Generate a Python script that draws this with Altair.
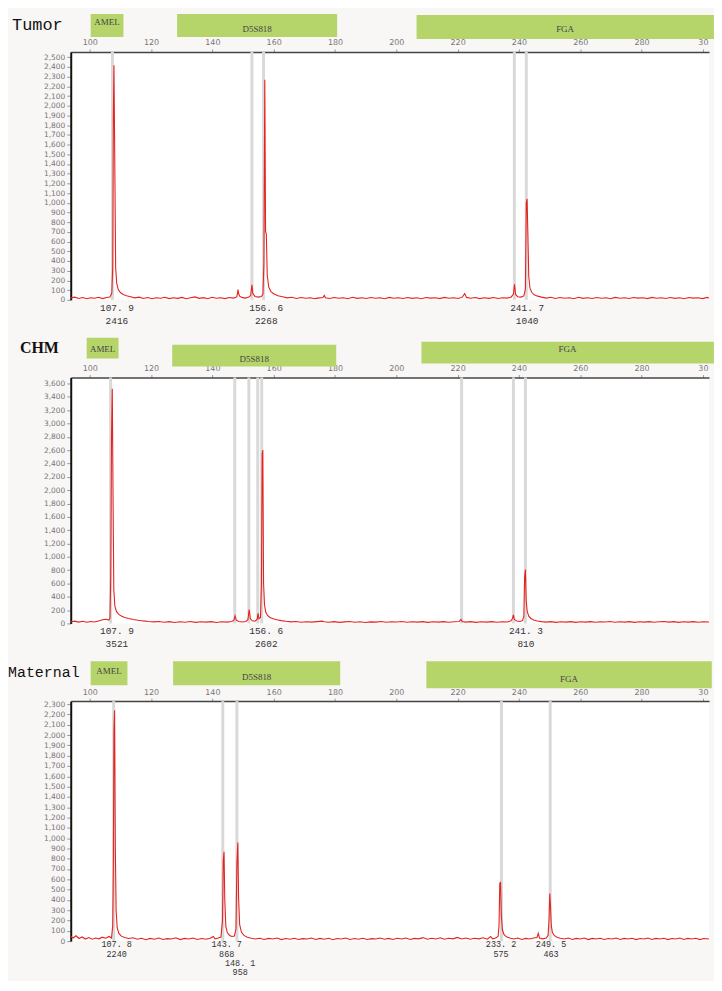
import altair as alt
import pandas as pd

# ---------------- data ----------------
X_DOMAIN = [93.8, 302.0]
x_tick_values = [100, 120, 140, 160, 180, 200, 220, 240, 260, 280, 300]

panel_names = ["Tumor", "CHM", "Maternal"]
marker_names = ["AMEL", "D5S818", "FGA"]

# marker bins (bp) of the green header boxes
tumor_marker_start = [100.3, 128.5, 206.6]
tumor_marker_end = [111.0, 180.7, 303.6]
chm_marker_start = [99.0, 126.9, 208.2]
chm_marker_end = [109.4, 180.4, 303.6]
maternal_marker_start = [100.3, 127.2, 209.8]
maternal_marker_end = [112.3, 181.7, 302.9]

# grey allele bins (bp)
tumor_bins = [107.4, 152.9, 156.7, 238.5, 242.4]
chm_bins = [106.8, 147.3, 151.9, 154.8, 156.1, 221.3, 238.2, 242.1]
maternal_bins = [107.8, 143.4, 148.0, 234.3, 250.2]

# called peaks: size label, height label, label row
tumor_label_size = ["107. 9", "156. 6", "241. 7"]
tumor_label_height = ["2416", "2268", "1040"]
tumor_label_row = [0, 0, 0]
chm_label_size = ["107. 9", "156. 6", "241. 3"]
chm_label_height = ["3521", "2602", "810"]
chm_label_row = [0, 0, 0]
maternal_label_size = ["107. 8", "143. 7", "148. 1", "233. 2", "249. 5"]
maternal_label_height = ["2240", "868", "958", "575", "463"]
maternal_label_row = [0, 0, 1, 0, 0]

# electropherogram traces: (size bp, RFU)
tumor_trace = [
    (93.8, 20), (95.1, 28), (96.4, 14), (97.7, 24), (99.0, 12), (100.3, 22), (101.6, 16), (102.9, 26),
    (104.2, 13), (105.5, 24), (106.6, 30), (107.2, 70), (107.5, 340), (107.7, 1900), (107.9, 2416),
    (108.2, 1300), (108.45, 330), (108.8, 170), (109.3, 105), (110.0, 75), (110.9, 55), (112.0, 42),
    (113.3, 32), (114.7, 20), (116.1, 28), (117.5, 14), (118.9, 24), (120.3, 12), (121.7, 22), (123.1, 16),
    (124.5, 27), (125.9, 13), (127.3, 22), (128.7, 15), (130.1, 25), (131.5, 12), (132.9, 21), (134.3, 30),
    (135.7, 15), (137.1, 23), (138.5, 12), (139.9, 26), (141.3, 16), (142.7, 22), (144.1, 13), (145.5, 24),
    (146.9, 18), (148.0, 30), (148.35, 105), (148.6, 60), (148.9, 38), (149.6, 25), (150.7, 18), (151.8, 26),
    (152.5, 45), (152.9, 155), (153.2, 65), (153.9, 35), (155.0, 28), (156.0, 35), (156.5, 60), (156.8, 380),
    (157.1, 2268), (157.35, 700), (157.6, 680), (157.9, 250), (158.4, 130), (159.1, 85), (160.1, 60),
    (161.4, 42), (162.9, 32), (164.4, 20), (165.9, 27), (167.4, 14), (168.9, 24), (170.4, 16), (171.9, 22),
    (173.4, 12), (174.9, 20), (176.1, 24), (176.5, 45), (176.9, 22), (178.2, 14), (179.7, 24), (181.2, 16),
    (182.7, 22), (184.2, 12), (185.7, 26), (187.2, 15), (188.7, 21), (190.2, 13), (191.7, 24), (193.2, 17),
    (194.7, 22), (196.2, 12), (197.7, 25), (199.2, 16), (200.7, 22), (202.2, 14), (203.7, 24), (205.2, 15),
    (206.7, 21), (208.2, 12), (209.7, 24), (211.2, 18), (212.7, 22), (214.2, 13), (215.7, 25), (217.2, 16),
    (218.7, 22), (220.2, 14), (221.6, 30), (222.3, 65), (222.9, 25), (224.2, 16), (225.7, 24), (227.2, 13),
    (228.7, 22), (230.2, 15), (231.7, 24), (233.2, 14), (234.7, 22), (236.2, 18), (237.5, 30), (238.2, 60),
    (238.55, 160), (238.9, 55), (239.6, 32), (240.6, 28), (241.6, 40), (242.1, 110), (242.4, 1000),
    (242.65, 1040), (242.9, 700), (243.2, 240), (243.6, 120), (244.2, 75), (245.0, 52), (246.1, 38),
    (247.4, 28), (248.9, 18), (250.4, 26), (251.9, 14), (253.4, 24), (254.9, 16), (256.4, 22), (257.9, 12),
    (259.4, 26), (260.9, 15), (262.4, 21), (263.9, 13), (265.4, 24), (266.9, 17), (268.4, 22), (269.9, 12),
    (271.4, 25), (272.9, 16), (274.4, 22), (275.9, 14), (277.4, 24), (278.9, 18), (280.4, 22), (281.9, 13),
    (283.4, 25), (284.9, 16), (286.4, 22), (287.9, 14), (289.4, 24), (290.9, 15), (292.4, 21), (293.9, 12),
    (295.4, 24), (296.9, 18), (298.4, 22), (299.9, 13), (301.4, 25), (302.0, 18),
]

chm_trace = [
    (93.8, 25), (95.1, 35), (96.4, 20), (97.7, 32), (99.0, 18), (100.3, 30), (101.6, 22), (102.9, 38),
    (104.2, 55), (105.3, 62), (106.2, 50), (106.6, 80), (106.85, 700), (107.1, 2800), (107.35, 3521),
    (107.6, 1900), (107.85, 500), (108.2, 260), (108.7, 180), (109.4, 140), (110.3, 110), (111.4, 90),
    (112.7, 75), (114.2, 60), (115.8, 48), (117.5, 38), (119.2, 30), (120.9, 24), (122.6, 30), (124.3, 18),
    (126.0, 28), (127.7, 15), (129.4, 26), (131.1, 18), (132.8, 30), (134.5, 16), (136.2, 25), (137.9, 20),
    (139.6, 28), (141.3, 15), (143.0, 26), (144.7, 20), (146.3, 28), (147.0, 45), (147.4, 115), (147.8, 50),
    (148.6, 30), (149.8, 22), (150.9, 30), (151.6, 55), (152.0, 210), (152.4, 70), (153.0, 40), (153.9, 35),
    (154.6, 60), (154.9, 150), (155.2, 70), (155.7, 90), (156.0, 600), (156.25, 2550), (156.45, 2602),
    (156.7, 600), (157.0, 280), (157.4, 170), (158.0, 120), (158.8, 90), (159.8, 70), (161.0, 55),
    (162.4, 42), (164.0, 32), (165.6, 24), (167.3, 30), (169.0, 18), (170.7, 26), (172.4, 20), (174.1, 28),
    (175.8, 35), (176.5, 25), (178.0, 18), (179.7, 28), (181.4, 16), (183.1, 24), (184.8, 30), (186.5, 18),
    (188.2, 26), (189.9, 15), (191.6, 24), (193.3, 20), (195.0, 30), (196.7, 18), (198.4, 26), (200.1, 22),
    (201.8, 30), (203.5, 18), (205.2, 26), (206.9, 20), (208.6, 28), (210.3, 16), (212.0, 25), (213.7, 20),
    (215.4, 28), (217.1, 18), (218.8, 26), (220.5, 30), (221.1, 60), (221.5, 30), (222.6, 20), (224.3, 28),
    (226.0, 16), (227.7, 25), (229.4, 20), (231.1, 28), (232.8, 18), (234.5, 26), (236.2, 22), (237.4, 40),
    (237.9, 75), (238.2, 130), (238.5, 60), (239.3, 38), (240.4, 30), (241.2, 45), (241.6, 110),
    (241.85, 700), (242.1, 810), (242.35, 350), (242.7, 180), (243.2, 110), (243.9, 75), (244.8, 52),
    (246.0, 38), (247.4, 28), (248.9, 20), (250.5, 28), (252.1, 16), (253.7, 26), (255.3, 20), (256.9, 28),
    (258.5, 16), (260.1, 25), (261.7, 20), (263.3, 28), (264.9, 18), (266.5, 26), (268.1, 22), (269.7, 30),
    (271.3, 18), (272.9, 26), (274.5, 20), (276.1, 28), (277.7, 16), (279.3, 25), (280.9, 20), (282.5, 28),
    (284.1, 18), (285.7, 26), (287.3, 30), (288.9, 20), (290.5, 28), (292.1, 16), (293.7, 25), (295.3, 20),
    (296.9, 28), (298.5, 18), (300.1, 26), (302.0, 22),
]

maternal_trace = [
    (93.8, 45), (94.6, 30), (95.5, 52), (96.5, 25), (97.5, 40), (98.6, 20), (99.7, 35), (100.8, 18),
    (101.9, 30), (103.0, 22), (104.1, 38), (105.2, 28), (106.3, 45), (107.1, 30), (107.5, 150), (107.7, 700),
    (107.9, 2050), (108.1, 2240), (108.35, 900), (108.6, 300), (108.95, 130), (109.5, 75), (110.3, 48),
    (111.4, 35), (112.7, 25), (114.1, 32), (115.5, 18), (116.9, 28), (118.3, 14), (119.7, 26), (121.1, 18),
    (122.5, 30), (123.9, 16), (125.3, 24), (126.7, 20), (128.1, 32), (129.5, 15), (130.9, 26), (132.3, 20),
    (133.7, 30), (135.1, 16), (136.5, 25), (137.9, 18), (139.3, 28), (140.3, 45), (140.9, 22), (141.9, 30),
    (142.8, 40), (143.3, 200), (143.55, 780), (143.8, 868), (144.05, 400), (144.4, 140), (144.9, 80),
    (145.6, 55), (146.4, 45), (147.2, 50), (147.7, 120), (148.0, 750), (148.3, 958), (148.55, 420),
    (148.9, 160), (149.5, 85), (150.3, 55), (151.4, 38), (152.7, 28), (154.1, 20), (155.5, 28), (156.9, 16),
    (158.3, 26), (159.7, 20), (161.1, 30), (162.5, 15), (163.9, 25), (165.3, 18), (166.7, 28), (168.1, 15),
    (169.5, 24), (170.9, 20), (172.3, 30), (173.7, 16), (175.1, 26), (176.5, 18), (177.9, 28), (179.3, 14),
    (180.7, 25), (182.1, 20), (183.5, 30), (184.9, 16), (186.3, 25), (187.7, 18), (189.1, 28), (190.5, 15),
    (191.9, 24), (193.3, 20), (194.7, 30), (196.1, 18), (197.5, 26), (198.9, 16), (200.3, 28), (201.7, 20),
    (203.1, 30), (204.5, 16), (205.9, 26), (207.3, 22), (208.7, 34), (210.1, 18), (211.5, 28), (212.9, 20),
    (214.3, 32), (215.7, 18), (217.1, 28), (218.5, 22), (219.9, 36), (221.3, 20), (222.7, 30), (224.1, 18),
    (225.5, 28), (226.9, 22), (228.3, 32), (229.7, 18), (230.8, 45), (231.4, 22), (232.4, 30), (233.2, 45),
    (233.5, 150), (233.75, 560), (234.0, 575), (234.25, 260), (234.6, 110), (235.1, 65), (235.9, 42),
    (237.0, 30), (238.3, 20), (239.6, 30), (240.9, 16), (242.2, 26), (243.5, 20), (244.8, 30), (245.9, 35),
    (246.3, 75), (246.7, 30), (247.8, 22), (248.9, 30), (249.5, 55), (249.8, 200), (250.05, 463),
    (250.3, 330), (250.55, 150), (250.9, 85), (251.5, 55), (252.4, 38), (253.5, 28), (254.8, 20),
    (256.1, 30), (257.4, 16), (258.7, 26), (260.0, 20), (261.3, 30), (262.6, 15), (263.9, 26), (265.2, 20),
    (266.5, 28), (267.8, 16), (269.1, 25), (270.4, 20), (271.7, 30), (273.0, 16), (274.3, 26), (275.6, 20),
    (276.9, 28), (278.2, 15), (279.5, 25), (280.8, 20), (282.1, 30), (283.4, 16), (284.7, 26), (286.0, 20),
    (287.3, 28), (288.6, 15), (289.9, 25), (291.2, 20), (292.5, 30), (293.8, 16), (295.1, 26), (296.4, 20),
    (297.7, 28), (299.0, 15), (300.3, 25), (302.0, 20),
]

# y axis ranges (RFU)
tumor_y_max, tumor_y_step, tumor_y_top = 2555, 100, 2500
chm_y_max, chm_y_step, chm_y_top = 3690, 200, 3600
maternal_y_max, maternal_y_step, maternal_y_top = 2330, 100, 2300

# ---------------- styles ----------------
RED = "#e5231f"
GREEN = "#b5d56b"
BIN_GREY = "#d9d9d9"
LABEL_FONT = "Liberation Mono"

styles = {
    "Tumor": dict(height=249, title_x=-59, title_y=-27, title_font="Liberation Mono", title_size=17,
                  title_weight="normal",
                  boxes=[(-38, -15, -30), (-38, -15, -23), (-37, -13, -23)],
                  rows=[(8, 21)], lab_size=9.5),
    "CHM": dict(height=247, title_x=-51, title_y=-30, title_font="Liberation Serif", title_size=16,
                title_weight="bold",
                boxes=[(-40, -19, -29), (-33, -11, -19), (-36, -14, -29)],
                rows=[(8, 21)], lab_size=9.5),
    "Maternal": dict(height=241, title_x=-63, title_y=-29, title_font="Liberation Mono", title_size=15,
                     title_weight="normal",
                     boxes=[(-40, -16, -30), (-40, -16, -24), (-40, -13, -22)],
                     rows=[(3, 13), (22, 31)], lab_size=8.5),
}

X_AXIS = alt.Axis(orient="top", values=x_tick_values, grid=False, title=None,
                  labelExpr="datum.value == 300 ? '30' : datum.label",
                  labelFont="DejaVu Sans", labelFontSize=8, labelColor="#777777",
                  labelPadding=2, tickSize=3, tickColor="#999999",
                  domainColor="#444444", domainWidth=1.5)


def parse_size(txt):
    return float(txt.replace(" ", ""))


def make_panel(name, trace, bins, m_start, m_end, lab_size, lab_height, lab_row, y_max, y_step, y_top):
    st = styles[name]
    h = st["height"]
    xs = alt.Scale(domain=X_DOMAIN, nice=False, zero=False)
    ys = alt.Scale(domain=[0, y_max], nice=False, zero=True)

    df_trace = pd.DataFrame({
        "i": list(range(len(trace))),
        "bp": [p[0] for p in trace],
        "rfu": [p[1] for p in trace],
    })
    y_values = list(range(0, y_top + 1, y_step))

    rules = alt.Chart(pd.DataFrame({"bp": bins})).mark_rule(
        color=BIN_GREY, strokeWidth=3).encode(
        x=alt.X("bp:Q", scale=xs, axis=X_AXIS, title=None))

    line = alt.Chart(df_trace).mark_line(color=RED, strokeWidth=1.1, clip=True).encode(
        x=alt.X("bp:Q", scale=xs, axis=X_AXIS, title=None),
        y=alt.Y("rfu:Q", scale=ys, title=None,
                axis=alt.Axis(values=y_values, format=",d", grid=False, title=None,
                              labelFont="DejaVu Sans", labelFontSize=7.5, labelColor="#777777",
                              labelPadding=2, tickSize=4, tickColor="#999999",
                              domainColor="#111111", domainWidth=2)),
        order="i:Q",
    )

    layers = [rules, line]

    for k, mname in enumerate(marker_names):
        y1, y2, ty = st["boxes"][k]
        dfm = pd.DataFrame({"start": [m_start[k]], "end": [m_end[k]], "name": [mname]})
        box = alt.Chart(dfm).mark_rect(color=GREEN).encode(
            x=alt.X("start:Q", scale=xs, axis=X_AXIS, title=None), x2="end:Q",
            y=alt.value(y1), y2=alt.value(y2))
        txt = alt.Chart(dfm).transform_calculate(
            mid="(datum.start + min(datum.end, %f)) / 2" % (X_DOMAIN[1] + 1.5)
        ).mark_text(font="Liberation Serif", fontSize=9, color="#444444", baseline="middle").encode(
            x=alt.X("mid:Q", scale=xs, axis=X_AXIS, title=None), y=alt.value(ty), text="name:N")
        layers += [box, txt]

    title = alt.Chart(pd.DataFrame({"t": [name]})).mark_text(
        align="left", baseline="middle", font=st["title_font"], fontSize=st["title_size"],
        fontWeight=st["title_weight"], color="#111111").encode(
        x=alt.value(st["title_x"]), y=alt.value(st["title_y"]), text="t:N")
    layers.append(title)

    df_lab = pd.DataFrame({
        "pos": [parse_size(s) for s in lab_size],
        "size_txt": lab_size,
        "height_txt": lab_height,
        "row": lab_row,
    })
    for r, (o1, o2) in enumerate(st["rows"]):
        base = alt.Chart(df_lab).transform_filter(alt.datum.row == r)
        t1 = base.mark_text(font=LABEL_FONT, fontSize=st["lab_size"], color="#333333", dx=3,
                            baseline="middle").encode(
            x=alt.X("pos:Q", scale=xs, axis=X_AXIS, title=None), y=alt.value(h + o1), text="size_txt:N")
        t2 = base.mark_text(font=LABEL_FONT, fontSize=st["lab_size"], color="#333333", dx=3,
                            baseline="middle").encode(
            x=alt.X("pos:Q", scale=xs, axis=X_AXIS, title=None), y=alt.value(h + o2), text="height_txt:N")
        layers += [t1, t2]

    return alt.layer(*layers).properties(width=641, height=h)


p1 = make_panel("Tumor", tumor_trace, tumor_bins, tumor_marker_start, tumor_marker_end,
                tumor_label_size, tumor_label_height, tumor_label_row,
                tumor_y_max, tumor_y_step, tumor_y_top)
p2 = make_panel("CHM", chm_trace, chm_bins, chm_marker_start, chm_marker_end,
                chm_label_size, chm_label_height, chm_label_row,
                chm_y_max, chm_y_step, chm_y_top)
p3 = make_panel("Maternal", maternal_trace, maternal_bins, maternal_marker_start, maternal_marker_end,
                maternal_label_size, maternal_label_height, maternal_label_row,
                maternal_y_max, maternal_y_step, maternal_y_top)

chart = alt.vconcat(p1, p2, p3, spacing=78, bounds="flush").properties(
    padding={"left": 0, "top": 4, "right": 0, "bottom": 2},
    background="#f9f6f6",
).configure_view(fill="white", strokeWidth=0)

chart.save("out.html", embed_options={"renderer": "svg", "actions": False})
